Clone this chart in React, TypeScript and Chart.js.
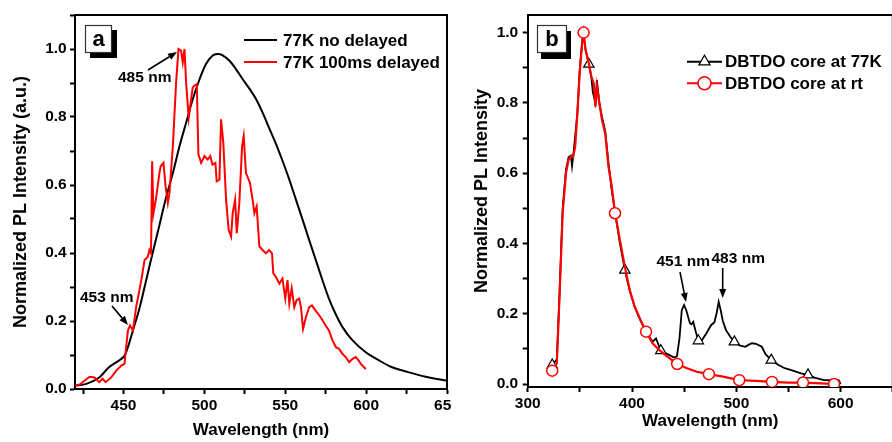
import React, { useEffect, useRef } from "react";
import { Chart, registerables } from "chart.js";

Chart.register(...registerables);

const FONT = '"Liberation Sans", Arial, Helvetica, sans-serif';

// ---------- Panel a data ----------
const A_SERIES_NAMES = ["77K no delayed", "77K 100ms delayed"];
const A_X_BLACK = [420, 427, 435, 441, 450, 452.7, 455.8, 460, 464, 468, 472, 476, 480.5, 484.6, 488.7, 492.8, 497, 501, 505, 508, 511, 515.4, 519.5, 523.7, 528.8, 532, 536, 540, 544, 548, 552.5, 556.6, 560.7, 564.8, 568.9, 573, 577, 581, 585.4, 591.6, 599.8, 608, 616, 626.5, 636.8, 650];
const A_Y_BLACK = [0.01, 0.015, 0.034, 0.064, 0.094, 0.123, 0.172, 0.24, 0.32, 0.4, 0.478, 0.557, 0.635, 0.714, 0.783, 0.852, 0.911, 0.956, 0.98, 0.985, 0.982, 0.966, 0.941, 0.911, 0.877, 0.852, 0.813, 0.768, 0.724, 0.675, 0.616, 0.557, 0.498, 0.438, 0.379, 0.32, 0.266, 0.222, 0.182, 0.143, 0.108, 0.084, 0.064, 0.049, 0.036, 0.024];
const A_X_RED = [420, 423, 426, 429, 432, 435, 437, 439, 442.4, 445.5, 448.6, 450.6, 451.2, 452.7, 454, 455.8, 457.8, 461, 463, 465, 466, 467, 467.7, 468.5, 470, 472.2, 473, 474.7, 476, 477.4, 478.4, 480.5, 482.5, 484, 485.6, 486.6, 487.7, 488.7, 490.3, 491.8, 492.8, 493.8, 495.3, 496.3, 498, 500, 502, 503.6, 505, 506.8, 507.6, 509.3, 510.3, 511.7, 513.4, 515, 516.5, 517.5, 519, 520, 521.6, 523.3, 524.3, 525.7, 528.2, 529.8, 530.9, 532.3, 534, 536, 538, 540, 541.8, 542.6, 544.2, 546.3, 548.3, 550, 551.4, 552.5, 554, 555.6, 557, 558.6, 559.7, 561, 562.8, 564.8, 566.5, 568.5, 571, 573, 575, 577, 579.2, 581.3, 583.3, 585.4, 587.4, 589.5, 591.6, 593.6, 595.3, 596.7, 599.8];
const A_Y_RED = [0.01, 0.013, 0.025, 0.036, 0.034, 0.02, 0.03, 0.02, 0.034, 0.054, 0.069, 0.074, 0.103, 0.172, 0.187, 0.172, 0.241, 0.32, 0.379, 0.389, 0.409, 0.399, 0.67, 0.517, 0.557, 0.635, 0.655, 0.665, 0.596, 0.547, 0.576, 0.714, 0.901, 1.0, 0.995, 0.961, 1.0, 0.901, 0.798, 0.852, 0.887, 0.892, 0.897, 0.69, 0.665, 0.685, 0.675, 0.685, 0.66, 0.665, 0.611, 0.616, 0.793, 0.724, 0.557, 0.468, 0.448, 0.517, 0.557, 0.458, 0.547, 0.714, 0.744, 0.635, 0.606, 0.557, 0.517, 0.537, 0.419, 0.409, 0.399, 0.409, 0.399, 0.34, 0.33, 0.31, 0.325, 0.266, 0.32, 0.251, 0.296, 0.241, 0.261, 0.266, 0.241, 0.177, 0.212, 0.241, 0.246, 0.232, 0.217, 0.202, 0.187, 0.172, 0.143, 0.123, 0.118, 0.103, 0.094, 0.079, 0.089, 0.094, 0.084, 0.074, 0.059];

// ---------- Panel b data ----------
const B_SERIES_NAMES = ["DBTDO core at 77K", "DBTDO core at rt"];
const B_X_77K = [323.5, 327.9, 330.4, 333.5, 336.7, 339.2, 341.4, 342.5, 344, 347.6, 350, 352.4, 353.6, 355.5, 358.6, 361.1, 362.5, 364.9, 366.3, 368.7, 371.2, 374.3, 377.4, 380.6, 383.7, 388.4, 393.1, 397.8, 402.5, 408.2, 413.5, 419.7, 423, 427.6, 433.9, 440, 443, 445.5, 447.7, 449.9, 452, 455.5, 457, 458.7, 461, 463.6, 467, 471.2, 475.9, 478.9, 481, 483.1, 485, 487, 490, 494, 498.1, 503, 508.7, 512, 515, 519, 524.4, 528, 533.5, 540, 546.3, 552, 557, 562, 568.7, 575, 583.9, 590, 598, 600];
const B_Y_77K = [0.054, 0.07, 0.25, 0.5, 0.61, 0.645, 0.65, 0.62, 0.66, 0.77, 0.9, 0.98, 0.99, 0.95, 0.91, 0.87, 0.83, 0.8, 0.865, 0.8, 0.76, 0.72, 0.63, 0.55, 0.49, 0.4, 0.324, 0.265, 0.22, 0.18, 0.15, 0.12, 0.13, 0.095, 0.085, 0.076, 0.078, 0.13, 0.21, 0.225, 0.21, 0.173, 0.17, 0.177, 0.15, 0.123, 0.125, 0.144, 0.168, 0.175, 0.2, 0.234, 0.21, 0.18, 0.154, 0.135, 0.12, 0.11, 0.106, 0.112, 0.116, 0.114, 0.106, 0.085, 0.068, 0.055, 0.045, 0.04, 0.035, 0.03, 0.026, 0.018, 0.011, 0.011, 0.011, 0.0];
const B_X_RT = [323.5, 327.9, 330.4, 333.5, 336.7, 339.2, 341.4, 343.6, 345.5, 347.6, 349.8, 352.4, 353.6, 355.5, 358.6, 361.1, 363.3, 364.9, 366.5, 368.7, 371.2, 374.3, 377.4, 380.6, 383.7, 388.4, 393.1, 397.8, 402.5, 408.2, 413.5, 419.7, 426, 433.9, 443.3, 452.7, 462, 473.7, 487.1, 502.8, 518.5, 534.2, 549.8, 563.9, 581.2, 593.7, 599.4];
const B_Y_RT = [0.038, 0.059, 0.239, 0.486, 0.6, 0.638, 0.647, 0.647, 0.675, 0.77, 0.884, 0.978, 1.0, 0.951, 0.913, 0.875, 0.856, 0.789, 0.847, 0.799, 0.751, 0.713, 0.619, 0.562, 0.486, 0.41, 0.334, 0.268, 0.22, 0.182, 0.149, 0.116, 0.097, 0.078, 0.057, 0.045, 0.035, 0.028, 0.021, 0.011, 0.009, 0.006, 0.004, 0.004, 0.002, 0.0, 0.0];
const B_MARKERS_77K = [323.5, 358.6, 393.1, 427.6, 463.6, 498.1, 533.5, 568.7];
const B_MARKERS_RT = [323.5, 353.6, 383.7, 413.5, 443.3, 473.7, 502.8, 534.2, 563.9, 593.7];

const Y_TITLE_A = "Normalized PL Intensity (a.u.)";
const Y_TITLE_B = "Normalized PL Intensity";
const X_TITLE = "Wavelength (nm)";

const toXY = (xs: number[], ys: number[]) => xs.map((x, i) => ({ x, y: ys[i] }));
const isMult = (v: number, step: number) => Math.abs(v / step - Math.round(v / step)) < 1e-6;

function bold(size: number) {
  return { family: FONT, size, weight: "bold" as const };
}

function xAxis(min: number, max: number, step: number, labelStep: number, height: number, titlePadBottom: number) {
  return {
    type: "linear",
    min,
    max,
    ticks: {
      stepSize: step,
      includeBounds: false,
      autoSkip: false,
      maxRotation: 0,
      color: "#000",
      padding: 2,
      font: bold(15.5),
      callback: (v: number) => (isMult(v, labelStep) ? String(Math.round(v)) : ""),
    },
    grid: { drawOnChartArea: false, drawTicks: true, tickLength: 5, tickWidth: 2, tickColor: "#000" },
    border: { display: true, color: "#000", width: 2 },
    title: { display: true, text: X_TITLE, color: "#000", font: bold(17), padding: { top: 0, bottom: titlePadBottom } },
    afterFit: (s: any) => {
      s.height = height;
      s.paddingLeft = 0;
      s.paddingRight = 0;
    },
  };
}

function yAxis(min: number, max: number, title: string, width: number, titlePadTop: number, tickPad: number) {
  return {
    type: "linear",
    min,
    max,
    ticks: {
      stepSize: 0.1,
      includeBounds: false,
      autoSkip: false,
      color: "#000",
      padding: tickPad,
      font: bold(15.5),
      callback: (v: number) => (isMult(v, 0.2) ? v.toFixed(1) : ""),
    },
    grid: { drawOnChartArea: false, drawTicks: true, tickLength: 5, tickWidth: 2, tickColor: "#000" },
    border: { display: true, color: "#000", width: 2 },
    title: { display: true, text: title, color: "#000", font: bold(18), padding: { top: titlePadTop, bottom: 0 } },
    afterFit: (s: any) => {
      s.width = width;
      s.paddingTop = 0;
      s.paddingBottom = 0;
    },
  };
}

type Note = { text: string; tx: number; ty: number; ax1: number; ay1: number; ax2: number; ay2: number };
type Decor = {
  box: { x: number; y: number; w: number; h: number; sx: number; sy: number; text: string };
  legend: { x1: number; x2: number; tx: number; ys: number[] };
  notes: Note[];
};

function drawMarker(ctx: CanvasRenderingContext2D, style: string, x: number, y: number, r: number, color: string) {
  ctx.save();
  ctx.fillStyle = "#fff";
  ctx.strokeStyle = color;
  ctx.lineWidth = style === "circle" ? 1.5 : 1.2;
  ctx.beginPath();
  if (style === "circle") {
    ctx.arc(x, y, r, 0, Math.PI * 2);
  } else {
    ctx.moveTo(x, y - r);
    ctx.lineTo(x + r * 0.866, y + r * 0.5);
    ctx.lineTo(x - r * 0.866, y + r * 0.5);
    ctx.closePath();
  }
  ctx.fill();
  ctx.stroke();
  ctx.restore();
}

function drawArrow(ctx: CanvasRenderingContext2D, x1: number, y1: number, x2: number, y2: number) {
  const ang = Math.atan2(y2 - y1, x2 - x1);
  const hl = 9;
  const hw = 3.5;
  const bx = x2 - Math.cos(ang) * hl;
  const by = y2 - Math.sin(ang) * hl;
  ctx.save();
  ctx.strokeStyle = "#000";
  ctx.fillStyle = "#000";
  ctx.lineWidth = 1.6;
  ctx.beginPath();
  ctx.moveTo(x1, y1);
  ctx.lineTo(bx, by);
  ctx.stroke();
  ctx.beginPath();
  ctx.moveTo(x2, y2);
  ctx.lineTo(bx - Math.sin(ang) * hw, by + Math.cos(ang) * hw);
  ctx.lineTo(bx + Math.sin(ang) * hw, by - Math.cos(ang) * hw);
  ctx.closePath();
  ctx.fill();
  ctx.restore();
}

function makeDecorPlugin(decor: Decor, legendOrder: number[]) {
  return {
    id: "decor",
    afterDraw(chart: any) {
      const ctx: CanvasRenderingContext2D = chart.ctx;
      const { left, right, top, bottom } = chart.chartArea;
      ctx.save();
      // frame (top and right edges)
      ctx.strokeStyle = "#000";
      ctx.lineWidth = 2;
      ctx.beginPath();
      ctx.moveTo(left, top);
      ctx.lineTo(right, top);
      ctx.lineTo(right, bottom);
      ctx.stroke();

      // panel label box
      const b = decor.box;
      ctx.fillStyle = "#000";
      ctx.fillRect(b.x + b.sx, b.y + b.sy, b.w, b.h);
      ctx.fillStyle = "#fff";
      ctx.fillRect(b.x, b.y, b.w, b.h);
      ctx.strokeStyle = "#333";
      ctx.lineWidth = 1.2;
      ctx.strokeRect(b.x + 0.5, b.y + 0.5, b.w - 1, b.h - 1);
      ctx.fillStyle = "#000";
      ctx.font = `bold 22px ${FONT}`;
      ctx.textAlign = "center";
      ctx.textBaseline = "middle";
      ctx.fillText(b.text, b.x + b.w / 2, b.y + b.h / 2 + 1);

      // legend
      const lg = decor.legend;
      legendOrder.forEach((di, row) => {
        const ds = chart.data.datasets[di];
        const y = lg.ys[row];
        ctx.strokeStyle = ds.borderColor;
        ctx.lineWidth = 2;
        ctx.beginPath();
        ctx.moveTo(lg.x1, y);
        ctx.lineTo(lg.x2, y);
        ctx.stroke();
        if (ds.legendMarker) {
          drawMarker(ctx, ds.pointStyle, (lg.x1 + lg.x2) / 2, y, ds.legendMarkerR, ds.borderColor);
        }
        ctx.fillStyle = "#000";
        ctx.font = `bold 17px ${FONT}`;
        ctx.textAlign = "left";
        ctx.textBaseline = "middle";
        ctx.fillText(ds.label, lg.tx, y + 1);
      });

      // notes with arrows
      decor.notes.forEach((n) => {
        ctx.fillStyle = "#000";
        ctx.font = `bold 15.5px ${FONT}`;
        ctx.textAlign = "left";
        ctx.textBaseline = "middle";
        ctx.fillText(n.text, n.tx, n.ty);
        drawArrow(ctx, n.ax1, n.ay1, n.ax2, n.ay2);
      });
      ctx.restore();
    },
  };
}

function PanelA() {
  const ref = useRef<HTMLCanvasElement | null>(null);
  useEffect(() => {
    if (!ref.current) return;
    const decor: Decor = {
      box: { x: 85, y: 25, w: 27, h: 28, sx: 5, sy: 5, text: "a" },
      legend: { x1: 244, x2: 277, tx: 283, ys: [40, 62] },
      notes: [
        { text: "485 nm", tx: 118, ty: 78, ax1: 148, ay1: 70, ax2: 177, ay2: 52 },
        { text: "453 nm", tx: 80, ty: 298, ax1: 112, ay1: 306, ax2: 128, ay2: 325 },
      ],
    };
    const chart = new Chart(ref.current, {
      type: "line",
      data: {
        datasets: [
          {
            label: A_SERIES_NAMES[1],
            data: toXY(A_X_RED, A_Y_RED),
            borderColor: "#ff0000",
            borderWidth: 2,
            pointRadius: 0,
            tension: 0,
          },
          {
            label: A_SERIES_NAMES[0],
            data: toXY(A_X_BLACK, A_Y_BLACK),
            borderColor: "#000000",
            borderWidth: 2,
            pointRadius: 0,
            tension: 0.3,
          },
        ],
      },
      options: {
        animation: false,
        responsive: false,
        events: [],
        layout: { padding: { top: 15, right: 5, left: 0, bottom: 0 } },
        plugins: { legend: { display: false }, tooltip: { enabled: false } },
        scales: {
          x: xAxis(420, 650, 25, 50, 53, 1),
          y: yAxis(0, 1.1, Y_TITLE_A, 75, 10, 3.3),
        },
      } as any,
      plugins: [makeDecorPlugin(decor, [1, 0])],
    } as any);
    return () => chart.destroy();
  }, []);
  return (
    <canvas
      ref={ref}
      width={452}
      height={442}
      style={{ position: "absolute", left: 0, top: 0, width: 452, height: 442 }}
    />
  );
}

function PanelB() {
  const ref = useRef<HTMLCanvasElement | null>(null);
  useEffect(() => {
    if (!ref.current) return;
    const decor: Decor = {
      box: { x: 87, y: 25, w: 30, h: 28, sx: 4, sy: 6, text: "b" },
      legend: { x1: 237, x2: 272, tx: 275, ys: [61.7, 83.3] },
      notes: [
        { text: "451 nm", tx: 206.5, ty: 262, ax1: 230, ay1: 272, ax2: 236, ay2: 302 },
        { text: "483 nm", tx: 261.5, ty: 259, ax1: 272.7, ay1: 268, ax2: 272.7, ay2: 298 },
      ],
    };
    const setRt = new Set(B_MARKERS_RT);
    const set77 = new Set(B_MARKERS_77K);
    const chart = new Chart(ref.current, {
      type: "line",
      data: {
        datasets: [
          {
            label: B_SERIES_NAMES[1],
            data: toXY(B_X_RT, B_Y_RT),
            borderColor: "#ff0000",
            borderWidth: 2.2,
            tension: 0,
            pointStyle: "circle",
            pointRadius: (c: any) => (c.raw && setRt.has(c.raw.x) ? 5.5 : 0),
            pointBackgroundColor: "#ffffff",
            pointBorderColor: "#ff0000",
            pointBorderWidth: 1.5,
            legendMarker: true,
            legendMarkerR: 6.5,
          },
          {
            label: B_SERIES_NAMES[0],
            data: toXY(B_X_77K, B_Y_77K),
            borderColor: "#000000",
            borderWidth: 1.8,
            tension: 0,
            pointStyle: "triangle",
            pointRadius: (c: any) => (c.raw && set77.has(c.raw.x) ? 6 : 0),
            pointBackgroundColor: "#ffffff",
            pointBorderColor: "#000000",
            pointBorderWidth: 1.2,
            legendMarker: true,
            legendMarkerR: 6.5,
          },
        ],
      },
      options: {
        animation: false,
        responsive: false,
        events: [],
        layout: { padding: { top: 15, right: 0, left: 0, bottom: 0 } },
        plugins: { legend: { display: false }, tooltip: { enabled: false } },
        scales: {
          x: xAxis(300, 650, 50, 100, 55, 10.3),
          y: yAxis(-0.0085, 1.05, "    " + Y_TITLE_B, 77.7, 21, 4.5),
        },
      } as any,
      plugins: [makeDecorPlugin(decor, [1, 0])],
    } as any);
    return () => chart.destroy();
  }, []);
  return (
    <canvas
      ref={ref}
      width={450}
      height={442}
      style={{ position: "absolute", left: 450, top: 0, width: 450, height: 442 }}
    />
  );
}

export default function App() {
  return (
    <div
      style={{
        position: "fixed",
        left: 0,
        top: 0,
        width: 892,
        height: 442,
        overflow: "hidden",
        background: "#ffffff",
      }}
    >
      <PanelA />
      <PanelB />
    </div>
  );
}
